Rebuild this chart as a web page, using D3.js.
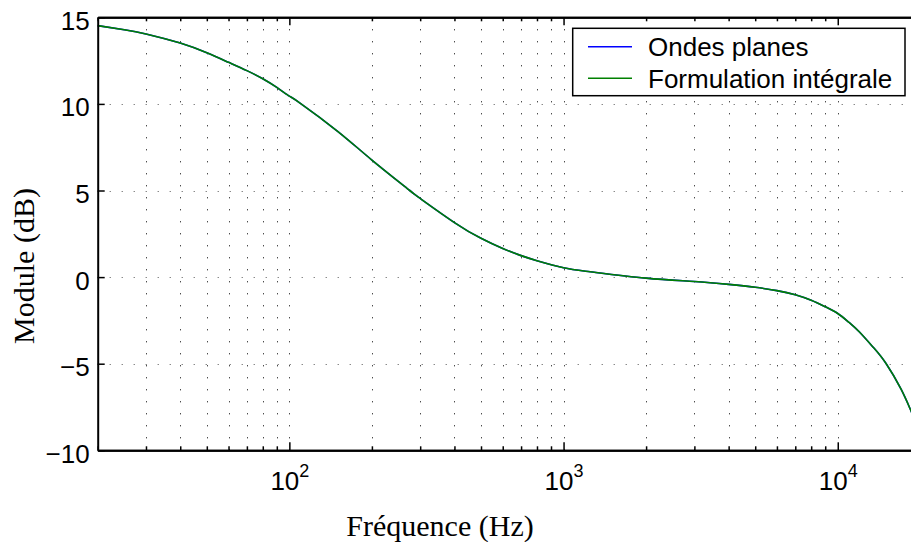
<!DOCTYPE html>
<html>
<head>
<meta charset="utf-8">
<script src="https://cdn.jsdelivr.net/npm/d3@7/dist/d3.min.js"></script>
<style>
  html, body { margin: 0; padding: 0; background: #fff; }
  svg { display: block; }
</style>
</head>
<body>
<svg id="chart" width="911" height="542"></svg>
<script>
// ---- data ----
const frequencies = [20, 25, 30, 40, 50, 60, 70, 80, 90, 100, 110, 150, 200, 275, 300, 400, 500, 600, 700, 800, 1000,
  1250, 2000, 3000, 4000, 5000, 6000, 7000, 8000, 9000, 10000, 11000, 12000, 13500, 15000, 17000, 18500, 20000];
const ondesPlanes = [14.52, 14.28, 14.04, 13.51, 12.95, 12.40, 11.92, 11.45, 10.95, 10.45, 10.02, 8.42, 6.76, 5.00, 4.54, 3.15, 2.24, 1.65, 1.24, 0.95, 0.54,
  0.31, -0.06, -0.25, -0.42, -0.59, -0.78, -1.02, -1.34, -1.71, -2.10, -2.62, -3.17, -4.07, -4.99, -6.46, -7.73, -8.94];
const formulationIntegrale = [14.52, 14.28, 14.04, 13.51, 12.95, 12.40, 11.92, 11.45, 10.95, 10.45, 10.02, 8.42, 6.76, 5.00, 4.54, 3.15, 2.24, 1.65, 1.24, 0.95, 0.54,
  0.31, -0.06, -0.25, -0.42, -0.59, -0.78, -1.02, -1.34, -1.71, -2.10, -2.62, -3.17, -4.07, -4.99, -6.46, -7.73, -8.94];
const seriesNames = ["Ondes planes", "Formulation intégrale"];
const seriesColors = ["#0000ff", "#008000"];
const xMajorTicks = [100, 1000, 10000];
const xMajorExponents = ["2", "3", "4"];
const xMinorTicks = [20, 30, 40, 50, 60, 70, 80, 90, 200, 300, 400, 500, 600, 700, 800, 900,
  2000, 3000, 4000, 5000, 6000, 7000, 8000, 9000, 20000];
const yTicks = [-10, -5, 0, 5, 10, 15];
const xLabel = "Fréquence (Hz)";
const yLabel = "Module (dB)";

(function () {
// ---- layout ----
const svg = d3.select("#chart");
const pL = 97.7, pR = 920.3, pT = 17.3, pB = 450.3;
const x = d3.scaleLog().domain([20, 20000]).range([pL, pR]);
const y = d3.scaleLinear().domain([-10, 15]).range([pB, pT]);
const sans = "'Liberation Sans', Arial, Helvetica, sans-serif";
const serif = "'Liberation Serif', 'Times New Roman', serif";

// grid
const grid = svg.append("g");
grid.selectAll(".vg").data(xMajorTicks.concat(xMinorTicks).filter(d => d > 20 && d < 20000))
  .join("line")
  .attr("x1", d => Math.round(x(d)) + 0.5).attr("x2", d => Math.round(x(d)) + 0.5)
  .attr("y1", pB).attr("y2", pT)
  .attr("stroke", "#000").attr("stroke-width", 1).attr("stroke-dasharray", "1,11");
grid.selectAll(".hg").data(yTicks.filter(d => d > -10 && d < 15))
  .join("line")
  .attr("x1", pL).attr("x2", pR)
  .attr("y1", d => Math.round(y(d)) + 0.5).attr("y2", d => Math.round(y(d)) + 0.5)
  .attr("stroke", "#555").attr("stroke-width", 1).attr("stroke-dasharray", "1,11");

// series
const line = d3.line().x(d => x(d[0])).y(d => y(d[1])).curve(d3.curveNatural);
[ondesPlanes, formulationIntegrale].forEach((vals, i) => {
  svg.append("path")
    .datum(frequencies.map((f, k) => [f, vals[k]]))
    .attr("d", line)
    .attr("fill", "none")
    .attr("stroke", seriesColors[i])
    .attr("stroke-width", 1.6);
});

// axes
function styleAxis(g) {
  g.select(".domain").attr("stroke", "#000").attr("stroke-width", 2);
  g.selectAll(".tick line").attr("stroke", "#000").attr("stroke-width", 1.5);
}
const xb = svg.append("g").attr("transform", `translate(0,${pB})`)
  .call(d3.axisBottom(x).tickValues(xMajorTicks).tickSize(-8).tickSizeOuter(0).tickFormat(""));
styleAxis(xb);
xb.selectAll(".tick text").remove();
xb.selectAll(".tick").append("text")
  .attr("y", 40).attr("fill", "#000").attr("text-anchor", "middle")
  .style("font-family", sans).style("font-size", "26px")
  .each(function(d, i) {
    const t = d3.select(this);
    t.append("tspan").text("10");
    t.append("tspan").attr("dy", -13).style("font-size", "18px").text(xMajorExponents[i]);
  });
const xbm = svg.append("g").attr("transform", `translate(0,${pB})`)
  .call(d3.axisBottom(x).tickValues(xMinorTicks).tickSize(-4).tickSizeOuter(0).tickFormat(""));
styleAxis(xbm);
const xt = svg.append("g").attr("transform", `translate(0,${pT})`)
  .call(d3.axisTop(x).tickValues(xMajorTicks).tickSize(-8).tickSizeOuter(0).tickFormat(""));
styleAxis(xt);
const xtm = svg.append("g").attr("transform", `translate(0,${pT})`)
  .call(d3.axisTop(x).tickValues(xMinorTicks).tickSize(-4).tickSizeOuter(0).tickFormat(""));
styleAxis(xtm);

const yl = svg.append("g").attr("transform", `translate(${pL},0)`)
  .call(d3.axisLeft(y).tickValues(yTicks).tickSize(-7).tickSizeOuter(0).tickPadding(8)
    .tickFormat(d => d < 0 ? "\u2212" + Math.abs(d) : String(d)));
styleAxis(yl);
yl.selectAll(".tick text").attr("fill", "#000").attr("dy", "0.46em")
  .style("font-family", sans).style("font-size", "26px");

// axis titles
svg.append("text").attr("x", 440).attr("y", 536).attr("text-anchor", "middle")
  .style("font-family", serif).style("font-size", "30px").attr("fill", "#000").text(xLabel);
svg.append("text").attr("transform", "translate(34,266) rotate(-90)").attr("text-anchor", "middle")
  .style("font-family", serif).style("font-size", "30px").attr("fill", "#000").text(yLabel);

// legend
const lg = svg.append("g");
lg.append("rect").attr("x", 572.7).attr("y", 28.3).attr("width", 332.3).attr("height", 67.4)
  .attr("fill", "#fff").attr("stroke", "#000").attr("stroke-width", 1.5);
seriesNames.forEach((name, i) => {
  const cy = 46.7 + i * 31.6;
  lg.append("line").attr("x1", 588).attr("x2", 632).attr("y1", cy).attr("y2", cy)
    .attr("stroke", seriesColors[i]).attr("stroke-width", 1.6);
  lg.append("text").attr("x", 648).attr("y", cy + 9.5).attr("fill", "#000")
    .style("font-family", sans).style("font-size", "26px").text(name);
});
})();
</script>
</body>
</html>
